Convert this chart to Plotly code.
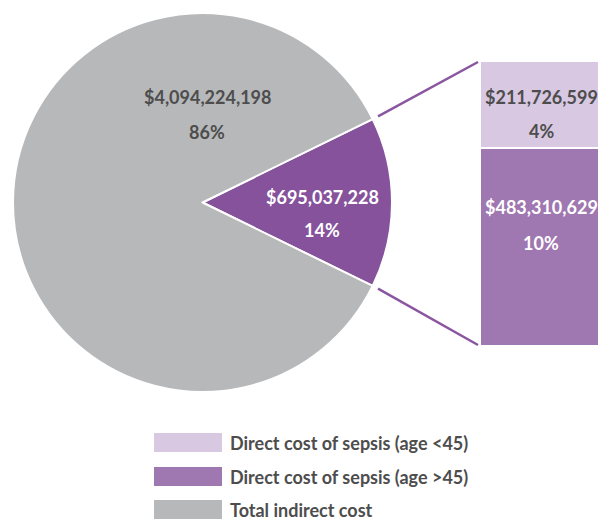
import math
import plotly.graph_objects as go

W, H = 598, 522

# ---- data ----
pie_labels = ["Total direct cost of sepsis", "Total indirect cost"]
pie_values = [695037228, 4094224198]
pie_pct_text = ["14%", "86%"]

bar_labels = ["Direct cost of sepsis (age >45)", "Direct cost of sepsis (age <45)"]
bar_values = [483310629, 211726599]
bar_pct_text = ["10%", "4%"]

legend_labels = ["Direct cost of sepsis (age <45)", "Direct cost of sepsis (age >45)", "Total indirect cost"]

# ---- style ----
GREY = "#b7b8ba"
PIE_PURPLE = "#86529c"
BAR_PURPLE = "#9f77b1"
LAVENDER = "#d8c8e2"
LINE_PURPLE = "#8a56a0"
DARK = "#4d4d4d"
FONT = "Lato"
FS = 18

def px(x):
    return x / W

def py(y):
    return 1 - y / H

cx, cy, r = 202.5, 202.5, 189.5
bar_left, bar_top, bar_bottom = 480, 61, 346

purple_frac = pie_values[0] / sum(pie_values)
half = math.pi * purple_frac
rotation = 90 - math.degrees(half)

fig = go.Figure()
fig.add_trace(go.Pie(
    labels=pie_labels, values=pie_values, sort=False, direction="clockwise",
    rotation=rotation, marker=dict(colors=[PIE_PURPLE, GREY], line=dict(color="white", width=2)),
    textinfo="none", hoverinfo="label+value", showlegend=False,
    domain=dict(x=[px(cx - r), px(cx + r)], y=[py(cy + r), py(cy - r)]),
))

bar_colors = [BAR_PURPLE, LAVENDER]
for lab, val, col in zip(bar_labels, bar_values, bar_colors):
    fig.add_trace(go.Bar(
        x=[0], y=[val], name=lab, width=1, marker=dict(color=col, line=dict(color="white", width=2)),
        xaxis="x2", yaxis="y2", showlegend=False, hoverinfo="name+y",
    ))

total_bar = sum(bar_values)
unit = 2 * (541 - bar_left)
x2_max = -0.5 + (W - bar_left) / unit

fig.update_layout(
    width=W, height=H, margin=dict(l=0, r=0, t=0, b=0),
    paper_bgcolor="white", plot_bgcolor="white", barmode="stack",
    xaxis2=dict(domain=[px(bar_left), 1], range=[-0.5, x2_max], visible=False, anchor="y2"),
    yaxis2=dict(domain=[py(bar_bottom), py(bar_top)], range=[0, total_bar], visible=False, anchor="x2"),
    xaxis=dict(visible=False), yaxis=dict(visible=False),
    font=dict(family=FONT, size=FS, color=DARK, weight="bold"),
)

def fmt(v):
    return "${:,}".format(v)

anns = []
def ann(x, y, text, color, xanchor="center"):
    anns.append(dict(x=x, y=y, xref="paper", yref="paper", text=text, showarrow=False,
                     xanchor=xanchor, yanchor="middle",
                     font=dict(family=FONT, size=FS, color=color, weight="bold")))

# pie labels
ann(px(207), py(97), fmt(pie_values[1]), DARK)
ann(px(207), py(132), pie_pct_text[1], DARK)
ann(px(322), py(197), fmt(pie_values[0]), "white")
ann(px(322), py(230), pie_pct_text[0], "white")

# bar labels
ann(px(541), py(97), fmt(bar_values[1]), DARK)
ann(px(541), py(131), bar_pct_text[1], DARK)
ann(px(541), py(207), fmt(bar_values[0]), "white")
ann(px(541), py(243), bar_pct_text[0], "white")

# connector lines
shapes = []
rs = r + 6
for sgn, yend in [(1, bar_top), (-1, bar_bottom)]:
    x0 = cx + rs * math.cos(half)
    y0 = cy - sgn * rs * math.sin(half)
    shapes.append(dict(type="line", xref="paper", yref="paper",
                       x0=px(x0), y0=py(y0), x1=px(bar_left - 2), y1=py(yend + sgn * 1),
                       line=dict(color=LINE_PURPLE, width=2.5)))

# manual legend
leg_colors = [LAVENDER, BAR_PURPLE, GREY]
leg_rows = [433, 467, 500]
for lab, col, ytop in zip(legend_labels, leg_colors, leg_rows):
    shapes.append(dict(type="rect", xref="paper", yref="paper",
                       x0=px(154), x1=px(222), y0=py(ytop), y1=py(ytop + 19),
                       fillcolor=col, line=dict(width=0)))
    ann(px(228), py(ytop + 9.5), lab, DARK, xanchor="left")

fig.update_layout(annotations=anns, shapes=shapes)
fig.write_html("out.html", config={"displayModeBar": False},
               post_script="document.body.style.margin='0';document.body.style.overflow='hidden';")
